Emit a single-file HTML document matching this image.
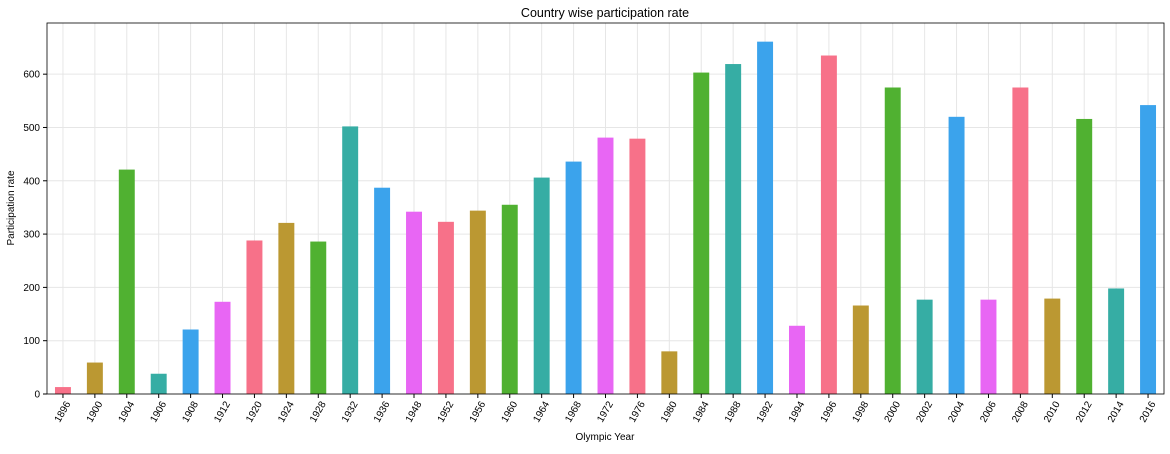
<!DOCTYPE html>
<html><head><meta charset="utf-8">
<style>
body{margin:0;background:#fff;font-family:"Liberation Sans",sans-serif;}
svg text{font-family:"Liberation Sans",sans-serif;fill:#000;}
</style></head>
<body>
<svg id="chart" width="1170" height="449">
<rect width="1170" height="449" fill="#fff"/>
<g id="grid"></g>
<g id="bars"></g>
<g id="axes"></g>
<text x="605" y="17" text-anchor="middle" font-size="12.5">Country wise participation rate</text>
<text x="605" y="440" text-anchor="middle" font-size="10">Olympic Year</text>
<text transform="translate(14,208) rotate(-90)" text-anchor="middle" font-size="10">Participation rate</text>
</svg>
<script>
const years=["1896","1900","1904","1906","1908","1912","1920","1924","1928","1932","1936","1948","1952","1956","1960","1964","1968","1972","1976","1980","1984","1988","1992","1994","1996","1998","2000","2002","2004","2006","2008","2010","2012","2014","2016"];
const rates=[13,59,421,38,121,173,288,321,286,502,387,342,323,344,355,406,436,481,479,80,603,619,661,128,635,166,575,177,520,177,575,179,516,198,542];
const yTicks=[0,100,200,300,400,500,600];
const palette=["#f77189","#bb9832","#50b131","#36ada4","#3ba3ec","#e866f4"];
const L=47,R=1164,T=23,B=394,YMAX=696;
const NS="http://www.w3.org/2000/svg";
const step=(R-L)/years.length;
function xC(i){return L+step*(i+0.5);}
function yS(v){return B-(v/YMAX)*(B-T);}
const grid=document.getElementById('grid'),bars=document.getElementById('bars'),axes=document.getElementById('axes');
function mk(tag,attrs,parent){const e=document.createElementNS(NS,tag);for(const k in attrs)e.setAttribute(k,attrs[k]);parent.appendChild(e);return e;}
yTicks.forEach(v=>{
  const y=yS(v);
  const g=mk('line',{x1:L,x2:R,y1:y,y2:y,stroke:'#e6e6e6','stroke-width':1},grid);
  
  
  mk('line',{x1:L-4,x2:L,y1:y,y2:y,stroke:'#000'},axes);
  const t=mk('text',{x:L-7,y:y+3.5,'text-anchor':'end','font-size':10},axes);
  t.textContent=v;
  
  
});
years.forEach((yr,i)=>{
  const x=xC(i);
  const g=mk('line',{x1:x,x2:x,y1:T,y2:B,stroke:'#e6e6e6','stroke-width':1},grid);
  
  
  const w=step*0.5;
  const b=mk('rect',{x:x-w/2,y:yS(rates[i]),width:w,height:B-yS(rates[i]),fill:palette[i%6]},bars);
  
  
  mk('line',{x1:x,x2:x,y1:B,y2:B+4,stroke:'#000'},axes);
  const t=mk('text',{transform:`translate(${x},${B+18}) rotate(-60)`,'text-anchor':'middle','dominant-baseline':'middle','font-size':10},axes);
  t.textContent=yr;
  
  
});
const fr=mk('rect',{x:L,y:T,width:R-L,height:B-T,fill:'none',stroke:'#000','stroke-width':0.8},axes);


</script>
</body></html>
